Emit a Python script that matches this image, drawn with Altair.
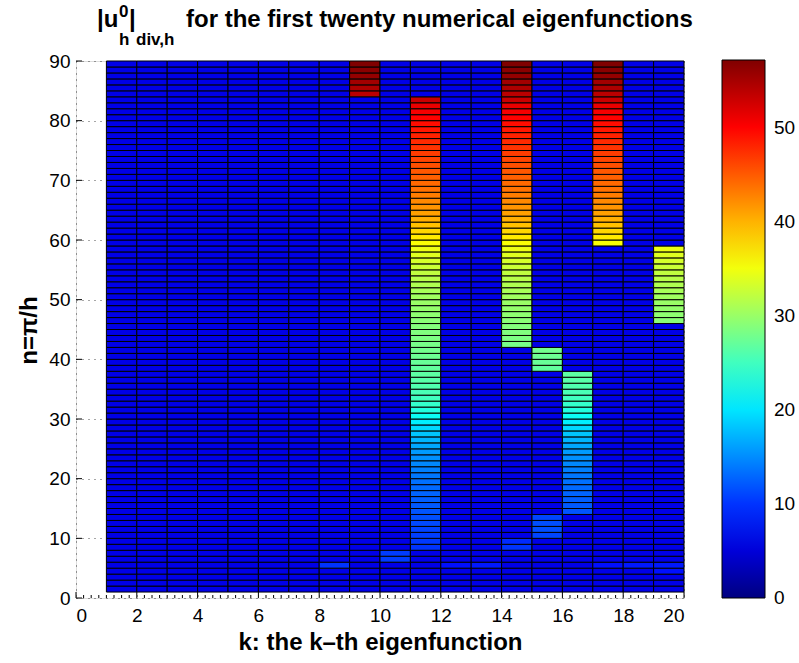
import altair as alt
import pandas as pd

# ---------------- data ----------------
k_columns = list(range(1, 20))          # left edge of each pcolor column (k = 1..19)
n_rows = list(range(1, 90))             # lower edge of each pcolor row (n = 1..89)
background_level = 5.8                  # the dark-blue level of ordinary cells

# value of the "bright" cells as a function of n (n = 8 .. 89)
spurious_first_n = 8
spurious_values = [
    10.0, 10.3, 10.6, 10.9, 11.2, 11.5, 11.8, 12.1, 12.4, 12.7,
    13.0, 13.4, 13.8, 14.2, 14.7, 15.2, 15.8, 16.5, 17.3, 18.2,
    19.3, 20.6, 22.0, 23.3, 24.3, 25.0, 25.5, 25.9, 26.3, 26.6,
    26.9, 27.2, 27.5, 27.8, 28.1, 28.4, 28.6, 28.8, 29.1, 29.4,
    29.7, 30.0, 30.4, 30.8, 31.2, 31.7, 32.2, 32.7, 33.3, 33.9,
    34.6, 35.4, 36.8, 38.0, 39.2, 40.2, 41.0, 41.7, 42.4, 43.0,
    43.6, 44.1, 44.6, 45.1, 45.6, 46.1, 46.6, 47.1, 47.6, 48.1,
    48.7, 49.3, 49.9, 50.5, 51.2, 53.0, 53.8, 54.5, 55.2, 55.9,
    56.5, 57.1,
]
# columns (k) with bright cells and their n range (inclusive)
spurious_k = [9, 11, 14, 15, 16, 17, 19]
spurious_from = [84, 8, 42, 38, 14, 59, 46]
spurious_to = [89, 83, 89, 41, 37, 89, 58]

# a few slightly lighter cells near the bottom
light_k = [8, 10, 10, 12, 13, 14, 14, 15, 15, 15, 15, 17, 18, 19, 19]
light_n = [5, 6, 7, 5, 5, 8, 9, 10, 11, 12, 13, 5, 5, 4, 5]
light_v = [10.0, 10.5, 10.5, 8.0, 8.5, 10.0, 9.5, 11.0, 11.5, 11.5, 11.0, 8.0, 8.5, 8.0, 8.5]

x_ticks = [0, 2, 4, 6, 8, 10, 12, 14, 16, 18, 20]
y_ticks = [0, 10, 20, 30, 40, 50, 60, 70, 80, 90]
cbar_ticks = [0, 10, 20, 30, 40, 50]
cmax = 57.1

jet = ["#000080", "#0000FF", "#0080FF", "#00FFFF", "#80FF80",
       "#FFFF00", "#FF8000", "#FF0000", "#800000"]

# ---------------- build the table ----------------
spur = {k: (a, b) for k, a, b in zip(spurious_k, spurious_from, spurious_to)}
light = {(k, n): v for k, n, v in zip(light_k, light_n, light_v)}
rows = []
for k in k_columns:
    for n in n_rows:
        v = background_level
        if k in spur and spur[k][0] <= n <= spur[k][1]:
            v = spurious_values[n - spurious_first_n]
        elif (k, n) in light:
            v = light[(k, n)]
        rows.append({"k0": k, "k1": k + 1, "n0": n, "n1": n + 1, "value": v})
df = pd.DataFrame(rows)

FONT = "Liberation Sans"
xs = alt.Scale(domain=[0, 20], nice=False, zero=False)
ys = alt.Scale(domain=[0, 90], nice=False, zero=False)
cs = alt.Scale(domain=[0, cmax], nice=False, zero=False)

x_axis = alt.Axis(
    values=x_ticks, grid=True, gridDash=[1, 5], gridColor="black", gridOpacity=0.7,
    ticks=False, domain=False, labelFontSize=19, labelFont=FONT, labelColor="black",
    labelPadding=8, title="k: the k\u2013th eigenfunction", titleFontSize=24,
    titleFont=FONT, titleFontWeight="bold", titleColor="black", titleX=304, titleY=44,
    titleAlign="center", titleBaseline="middle")
y_axis = alt.Axis(
    values=y_ticks, grid=True, gridDash=[1, 5], gridColor="black", gridOpacity=0.7,
    ticks=False, domain=False, labelFontSize=19, labelFont=FONT, labelColor="black",
    labelPadding=6, title="n=\u03c0/h", titleFontSize=24, titleFont=FONT,
    titleFontWeight="bold", titleColor="black", titleX=-47, titleY=269,
    titleAlign="center", titleBaseline="middle", titleAngle=270)

cells = alt.Chart(df).mark_rect(stroke="black", strokeWidth=1).encode(
    x=alt.X("k0:Q", scale=xs, axis=x_axis),
    x2="k1:Q",
    y=alt.Y("n0:Q", scale=ys, axis=y_axis),
    y2="n1:Q",
    color=alt.Color("value:Q", scale=alt.Scale(domain=[0, cmax], range=jet, interpolate="rgb"),
                    legend=alt.Legend(
                        title=None, orient="none", legendX=646, legendY=-1, direction="vertical",
                        gradientLength=538, gradientThickness=43, gradientStrokeColor="black",
                        gradientStrokeWidth=1, values=cbar_ticks, labelExpr="''")),
)

# inward major ticks
xt = pd.DataFrame({"t": x_ticks})
bottom_ticks = alt.Chart(xt).mark_rule(color="black", strokeWidth=1).encode(
    x=alt.X("t:Q", scale=xs, axis=x_axis),
    y=alt.value(537), y2=alt.value(531))
minor_x = pd.DataFrame({"t": [i * 0.25 for i in range(81) if i % 8]})
minor_ticks = alt.Chart(minor_x).mark_rule(color="black", strokeWidth=1).encode(
    x=alt.X("t:Q", scale=xs, axis=x_axis),
    y=alt.value(537), y2=alt.value(534))
yt = pd.DataFrame({"t": y_ticks})
left_ticks = alt.Chart(yt).mark_rule(color="black", strokeWidth=1).encode(
    y=alt.Y("t:Q", scale=ys, axis=None),
    x=alt.value(0), x2=alt.value(6))

# colorbar ticks and labels
ct = pd.DataFrame({"t": cbar_ticks[1:]})
cb_left = alt.Chart(ct).mark_rule(color="black", strokeWidth=1).encode(
    y=alt.Y("t:Q", scale=cs, axis=None), x=alt.value(646), x2=alt.value(651))
cb_right = alt.Chart(ct).mark_rule(color="black", strokeWidth=1).encode(
    y=alt.Y("t:Q", scale=cs, axis=None), x=alt.value(684), x2=alt.value(689))
cl = pd.DataFrame({"t": cbar_ticks})
cb_labels = alt.Chart(cl).mark_text(
    font=FONT, fontSize=19, align="left", baseline="middle", color="black").encode(
    y=alt.Y("t:Q", scale=cs, axis=None), x=alt.value(698), text="t:Q")


def piece(txt, x, y, size):
    return alt.Chart(pd.DataFrame({"s": [txt]})).mark_text(
        font=FONT, fontWeight="bold", fontSize=size, align="left", baseline="alphabetic",
        color="black").encode(text="s:N", x=alt.value(x), y=alt.value(y))


title_layers = [
    piece("|u", 21, -34, 24),
    piece("0", 43, -44, 17),
    piece("h", 43, -16, 17),
    piece("|", 53, -34, 24),
    piece("div,h", 60, -16, 17),
    piece("for the first twenty numerical eigenfunctions", 110, -34, 24),
]

chart = alt.layer(cells, bottom_ticks, minor_ticks, left_ticks, cb_left, cb_right, cb_labels,
                  *title_layers).resolve_scale(y="independent").properties(
    width=608, height=537,
    padding={"left": 76, "top": 61, "right": 115, "bottom": 65},
    autosize=alt.AutoSizeParams(type="none"),
).configure_view(stroke="black", strokeWidth=1).configure(background="white")

chart.save("out.html", embed_options={"renderer": "svg", "actions": False})
